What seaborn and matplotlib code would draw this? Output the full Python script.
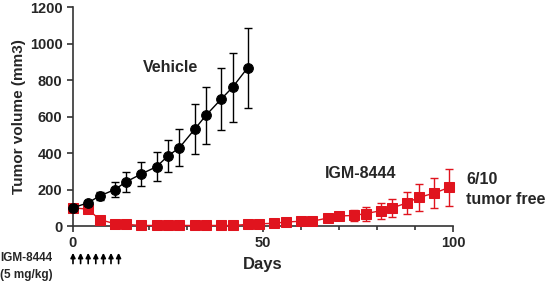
import matplotlib
matplotlib.use("Agg")
import matplotlib.pyplot as plt
import seaborn as sns
import pandas as pd
from matplotlib.ticker import MultipleLocator

# ---- data ----
veh_days = [0, 4, 7, 11, 14, 18, 22, 25, 28, 32, 35, 39, 42, 46]
veh_mean = [100, 128, 165, 200, 243, 286, 326, 385, 430, 531, 608, 697, 762, 870]
veh_err = [8, 12, 22, 40, 54, 66, 80, 88, 100, 138, 155, 172, 190, 220]

igm_days = [0, 4, 7, 11, 14, 18, 22, 25, 28, 32, 35, 39, 42, 46, 49, 53, 56, 60,
            63, 67, 70, 74, 77, 81, 84, 88, 91, 95, 99]
igm_mean = [100, 92, 35, 13, 9, 3, 3, 3, 3, 3, 3, 3, 3, 9, 12, 15, 22, 26,
            26, 44, 55, 58, 68, 84, 99, 128, 157, 180, 212]
igm_err = [5, 6, 5, 3, 2, 1, 1, 1, 1, 1, 1, 1, 1, 3, 4, 4, 5, 6,
           6, 10, 22, 30, 38, 45, 51, 60, 73, 82, 100]

dose_days = [0, 2, 4, 6, 8, 10, 12]

x_ticks = [0, 50, 100]
y_ticks = [0, 200, 400, 600, 800, 1000, 1200]

# ---- plot ----
sns.set_style("ticks")
plt.rcParams['font.family'] = ['Liberation Sans', 'DejaVu Sans']
plt.rcParams['font.weight'] = 'bold'

fig = plt.figure(figsize=(5.48, 2.85), dpi=100)
ax = fig.add_axes([0.1332, 0.207, 0.6934, 0.7667])

veh_df = pd.DataFrame({"Days": veh_days, "Volume": veh_mean})
igm_df = pd.DataFrame({"Days": igm_days, "Volume": igm_mean})

red = "#E0141E"
ax.errorbar(igm_days, igm_mean, yerr=igm_err, fmt='none', ecolor=red,
            elinewidth=1.0, capsize=3, capthick=1.0, clip_on=False, zorder=2)
ax.errorbar(veh_days, veh_mean, yerr=veh_err, fmt='none', ecolor='black',
            elinewidth=1.0, capsize=3, capthick=1.0, clip_on=False, zorder=3)

sns.lineplot(data=igm_df, x="Days", y="Volume", ax=ax, color=red, marker='s',
             markersize=6.5, markeredgecolor=red, linewidth=1.0, clip_on=False,
             zorder=4)
sns.lineplot(data=veh_df, x="Days", y="Volume", ax=ax, color='black', marker='o',
             markersize=7, markeredgecolor='black', linewidth=1.0, clip_on=False,
             zorder=5)

ax.set_xlim(0, 100)
ax.set_ylim(0, 1200)
ax.set_xticks(x_ticks)
ax.set_yticks(y_ticks)
ax.xaxis.set_minor_locator(MultipleLocator(10))
ax.tick_params(axis='both', which='major', labelsize=10.5, width=1.2, length=4,
               color='#333333')
ax.tick_params(axis='x', which='minor', width=1.2, length=3, color='#333333')
for lab in ax.get_xticklabels() + ax.get_yticklabels():
    lab.set_fontweight('bold')

for s in ['top', 'right']:
    ax.spines[s].set_visible(False)
for s in ['left', 'bottom']:
    ax.spines[s].set_linewidth(1.2)
    ax.spines[s].set_color('#333333')

ax.set_xlabel("Days", fontsize=12, fontweight='bold', labelpad=5)
ax.set_ylabel("Tumor volume (mm3)", fontsize=11, fontweight='bold', labelpad=3)

ax.text(25.7, 868, "Vehicle", fontsize=11.5, fontweight='bold',
        ha='center', va='center')
fig.text(361 / 548, 1 - 173 / 285, "IGM-8444", fontsize=11.5, fontweight='bold',
         ha='center', va='center')
fig.text(466 / 548, 1 - 180 / 285, "6/10", fontsize=11.5, fontweight='bold',
         ha='left', va='center')
fig.text(466 / 548, 1 - 199 / 285, "tumor free", fontsize=11.5, fontweight='bold',
         ha='left', va='center')

fig.text(0 / 548, 1 - 258 / 285, "IGM-8444", fontsize=8.5, fontweight='bold',
         ha='left', va='center')
fig.text(0 / 548, 1 - 275 / 285, "(5 mg/kg)", fontsize=8.5, fontweight='bold',
         ha='left', va='center')

for d in dose_days:
    ax.annotate("", xy=(d, -0.123), xycoords=('data', 'axes fraction'),
                xytext=(d, -0.172), textcoords=('data', 'axes fraction'),
                arrowprops=dict(arrowstyle='-|>', color='black', lw=1.2,
                                mutation_scale=7, shrinkA=0, shrinkB=0),
                annotation_clip=False)

fig.savefig("out.png", dpi=100)
